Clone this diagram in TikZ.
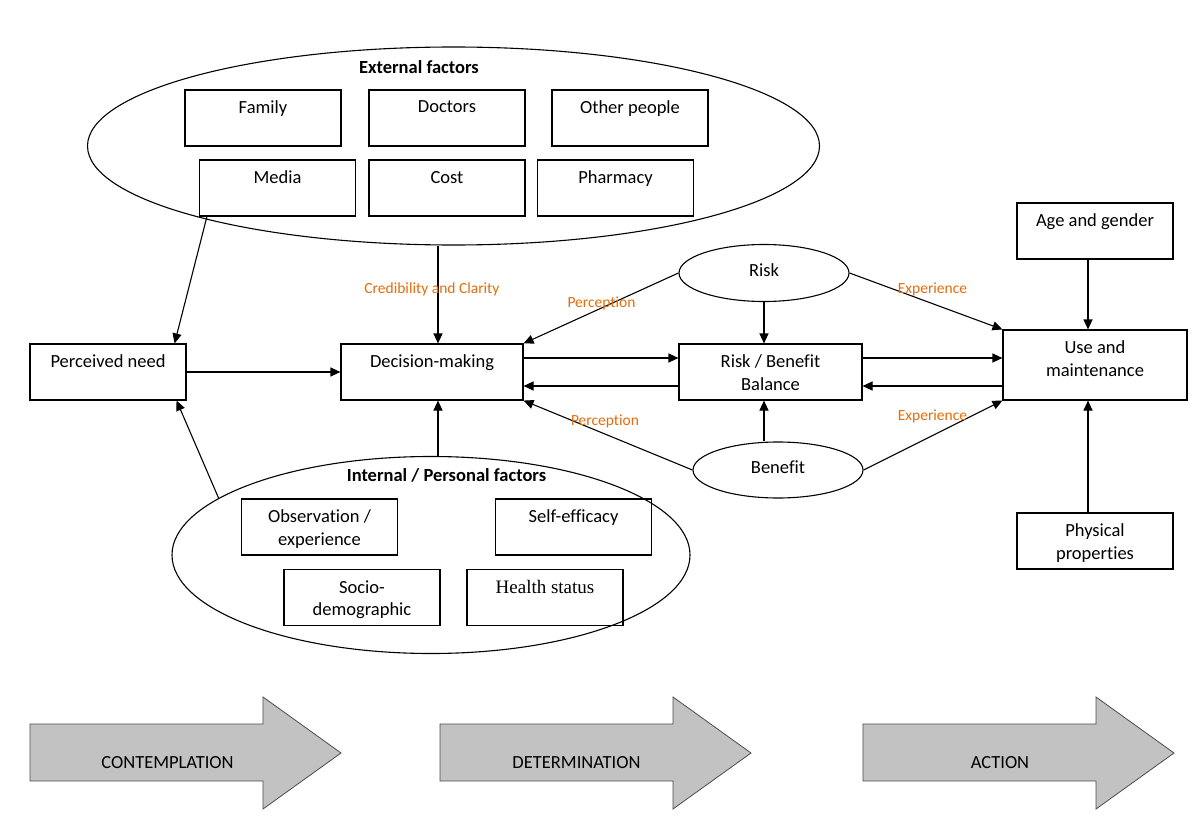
\documentclass[tikz,border=0pt]{standalone}
\usepackage{fontspec}
\setmainfont{Carlito}[Ligatures=NoCommon]
\newfontfamily\timesfont{Liberation Serif}
\usetikzlibrary{shapes.geometric,arrows.meta,calc}
\definecolor{noteorange}{RGB}{228,108,10}
\definecolor{stagegray}{RGB}{194,194,194}

\begin{document}
\begin{tikzpicture}[x=1pt,y=-1pt,
    font=\fontsize{18.5}{22.5}\selectfont,
    line width=1.1pt,
    factor/.style={draw, minimum width=156pt, minimum height=56pt, inner sep=0pt},
    boxtext/.style={anchor=north, inner sep=0pt, yshift=-11pt, align=center},
    oval/.style={draw, ellipse, inner sep=0pt},
    conn/.style={-{Triangle[length=10pt,width=9pt]}},
    note/.style={text=noteorange, font=\fontsize{15.5}{18}\selectfont, inner sep=0pt},
    stage/.style={draw=black!70, fill=stagegray, line width=0.8pt},
    ]

    \useasboundingbox (0,0) rectangle (1200,840);

    % external factors
    \node[oval, minimum width=732pt, minimum height=198pt] (ext) at (453.5,146) {};
    \node (exttitle) at (419,67) {\bfseries External factors};
    \node[factor, label={[boxtext]north:Family}] (family) at (263,118) {};
    \node[factor, label={[boxtext]north:Doctors}] (doctors) at (447,118) {};
    \node[factor, label={[boxtext]north:Other people}] (others) at (630,118) {};
    \node[factor, label={[boxtext]north:Media}] (media) at (277.5,188) {};
    \node[factor, label={[boxtext]north:Cost}] (cost) at (447,188) {};
    \node[factor, label={[boxtext]north:Pharmacy}] (pharmacy) at (615.5,188) {};

    % main row
    \node[factor, label={[boxtext]north:Perceived need}] (pn) at (108,372) {};
    \node[factor, minimum width=182pt, label={[boxtext]north:Decision-making}] (dm) at (432,372) {};
    \node[factor, minimum width=183pt, label={[boxtext]north:{Risk / Benefit\\Balance}}] (rbb) at (770.5,372) {};
    \node[factor, minimum width=184pt, minimum height=70pt, label={[boxtext]north:{Use and\\maintenance}}] (use) at (1095,365) {};
    \node[factor, label={[boxtext]north:Age and gender}] (age) at (1095,231) {};
    \node[factor, label={[boxtext]north:{Physical\\properties}}] (phys) at (1095,541) {};

    \node[oval, minimum width=170pt, minimum height=57pt, text depth=5pt] (risk) at (764,273) {Risk};
    \node[oval, minimum width=170pt, minimum height=56pt, text depth=5pt] (benefit) at (778,470) {Benefit};

    % internal factors
    \node[oval, minimum width=518pt, minimum height=197pt] (int) at (431,555) {};
    \node (inttitle) at (446.5,475) {\bfseries Internal / Personal factors};
    \node[factor, label={[boxtext]north:{Observation /\\experience}}] (obs) at (319.5,527) {};
    \node[factor, label={[boxtext]north:Self-efficacy}] (self) at (573.5,527) {};
    \node[factor, label={[boxtext]north:{Socio-\\demographic}}] (socio) at (362,597.5) {};
    \node[factor, label={[boxtext]north:{\timesfont\fontsize{19}{22}\selectfont Health status}}] (health) at (545,597.5) {};

    % connectors
    \coordinate (dmtop) at ($(dm.north)+(6,0)$);
    \coordinate (dmbot) at ($(dm.south)+(6,0)$);
    \coordinate (dmhi) at ($(dm.east)+(0,-14)$);
    \coordinate (dmlo) at ($(dm.east)+(0,14)$);
    \coordinate (rbbhi) at ($(rbb.east)+(0,-14)$);
    \coordinate (rbblo) at ($(rbb.east)+(0,14)$);
    \coordinate (usetop) at ($(use.north)+(-7,0)$);
    \coordinate (usebot) at ($(use.south)+(-7,0)$);

    \draw[conn] ($(media.south west)+(8,0)$) -- ($(pn.north east)+(-12,0)$);
    \draw[conn] (int.165) -- ($(pn.south east)+(-10,0)$);
    \draw[conn] (dmtop |- ext.south) -- (dmtop);
    \draw[conn] (dmbot |- int.north) -- (dmbot);
    \draw[conn] (pn.east) -- (dm.west);
    \draw[conn] (dmhi) -- (dmhi -| rbb.west);
    \draw[conn] (dmlo -| rbb.west) -- (dmlo);
    \draw[conn] (rbbhi) -- (rbbhi -| use.west);
    \draw[conn] (rbblo -| use.west) -- (rbblo);
    \draw[conn] (risk.south) -- (risk.south |- rbb.north);
    \draw[conn] (benefit.north -| risk.south) -- (risk.south |- rbb.south);
    \draw[conn] (risk.west) -- (dm.north east);
    \draw[conn] (benefit.west) -- (dm.south east);
    \draw[conn] (risk.east) -- (use.north west);
    \draw[conn] (benefit.east) -- (use.south west);
    \draw[conn] (usetop |- age.south) -- (usetop);
    \draw[conn] (usebot |- phys.north) -- (usebot);

    \node[note] (credibility) at (432,289) {Credibility and Clarity};
    \node[note] (perceptionrisk) at (601.5,303) {Perception};
    \node[note] (perceptionbenefit) at (605,421.5) {Perception};
    \node[note] (experiencerisk) at (932.5,289) {Experience};
    \node[note] (experiencebenefit) at (932.5,416) {Experience};

    % stages
    \draw[stage] (30,724) -- (263,724) -- (263,697) -- (341,753) -- (263,809) -- (263,781) -- (30,781) -- cycle;
    \node (contemplation) at (167.5,762.5) {CONTEMPLATION};
    \draw[stage] (440,724) -- (673,724) -- (673,697) -- (751,753) -- (673,809) -- (673,781) -- (440,781) -- cycle;
    \node (determination) at (576.5,762.5) {DETERMINATION};
    \draw[stage] (863,724) -- (1096,724) -- (1096,697) -- (1174,753) -- (1096,809) -- (1096,781) -- (863,781) -- cycle;
    \node (action) at (1000,762.5) {ACTION};

\end{tikzpicture}
\end{document}
